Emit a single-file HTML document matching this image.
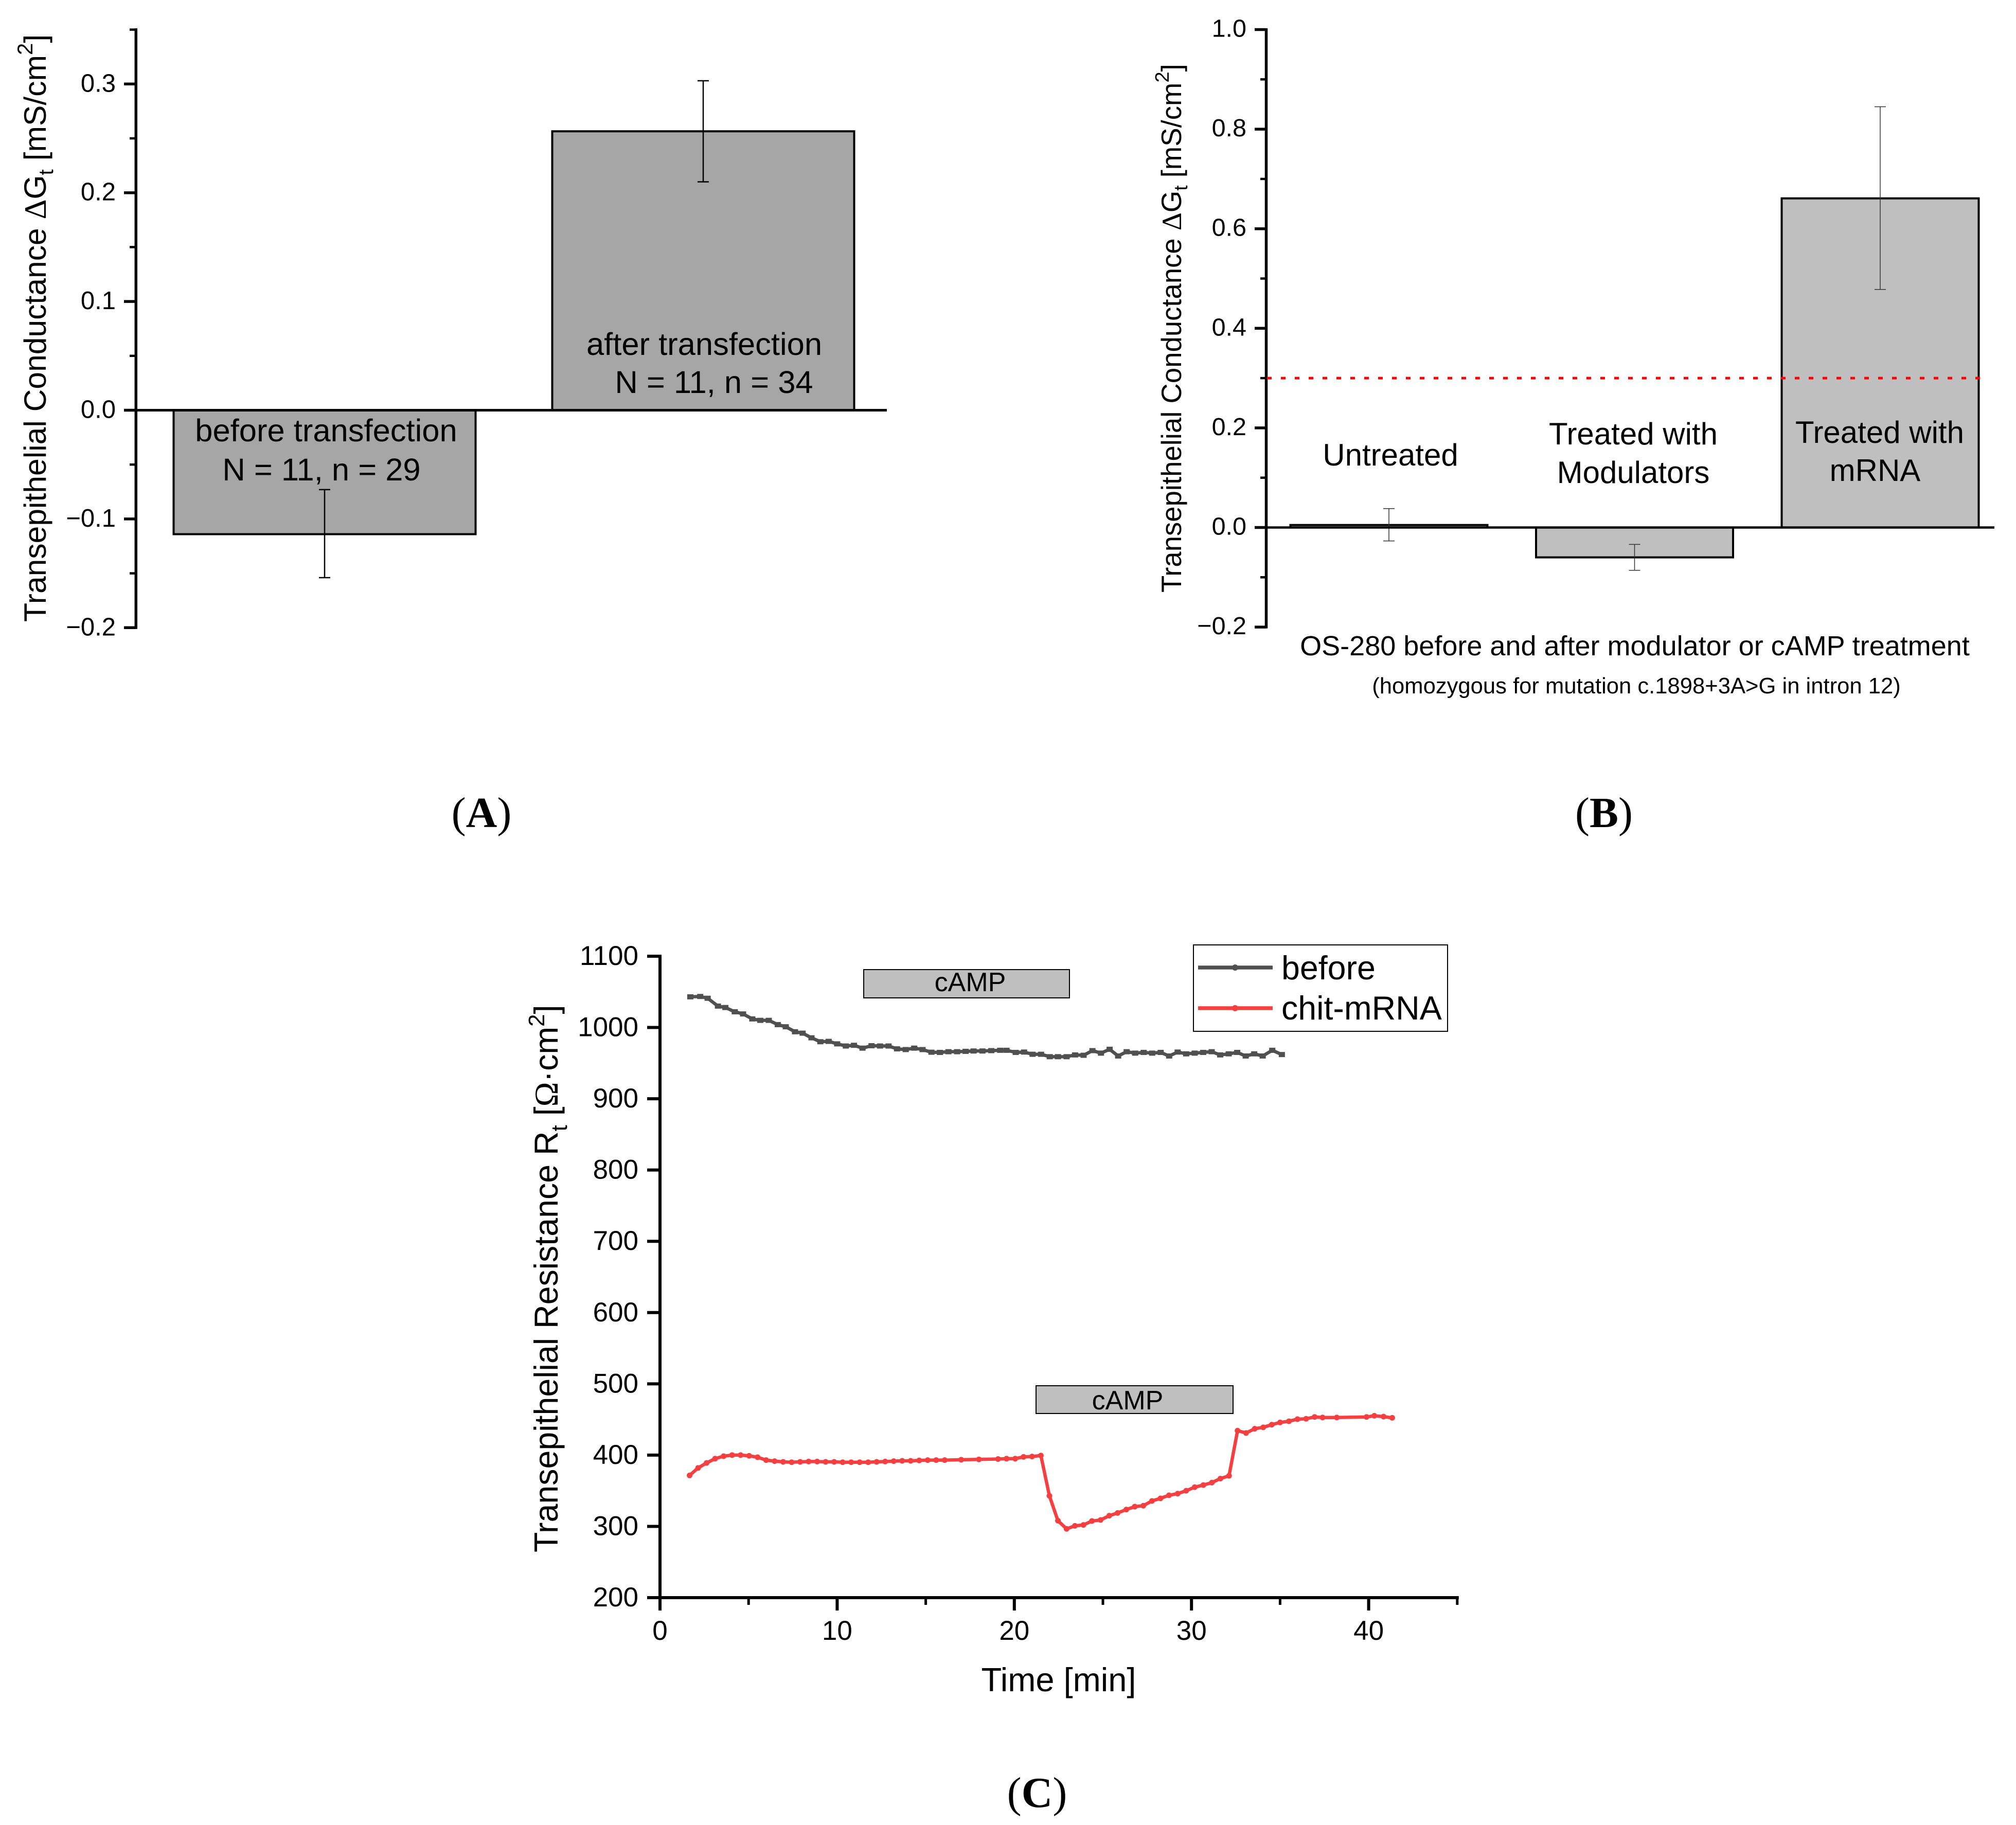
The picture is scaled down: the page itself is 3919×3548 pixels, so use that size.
<!DOCTYPE html>
<html lang="en">
<head>
<meta charset="utf-8">
<title>Transepithelial conductance and resistance charts</title>
<style>
html,body{margin:0;padding:0;background:#fff;}
svg{display:block;}
text{font-family:"Liberation Sans",sans-serif;fill:#000;}
.serif{font-family:"Liberation Serif",serif;}
</style>
</head>
<body>
<svg id="figure" xmlns="http://www.w3.org/2000/svg" width="3919" height="3548" viewBox="0 0 3919 3548">
  <rect x="0" y="0" width="3919" height="3548" fill="#fff"/>

  <g id="panel-a"></g>
  <g id="panel-b"></g>
  <g id="panel-c"></g>

  <g>
    <text transform="translate(89,1209) rotate(-90)" font-size="60.6">Transepithelial Conductance <tspan class="serif">Δ</tspan>G<tspan font-size="40" dy="14">t</tspan><tspan dy="-14"> [mS/cm</tspan><tspan font-size="42" dy="-26">2</tspan><tspan dy="26">]</tspan></text>
    <text x="634" y="858" font-size="61.5" text-anchor="middle">before transfection</text>
    <text x="625" y="934" font-size="61.5" text-anchor="middle">N = 11, n = 29</text>
    <text x="1369" y="690" font-size="61.5" text-anchor="middle">after transfection</text>
    <text x="1388" y="764" font-size="61.5" text-anchor="middle">N = 11, n = 34</text>
    <text class="serif" x="936" y="1608" font-size="84" text-anchor="middle">(<tspan font-weight="bold">A</tspan>)</text>
  </g>

  <g>
    <text transform="translate(2296,1152) rotate(-90)" font-size="54.5">Transepithelial Conductance <tspan class="serif">Δ</tspan>G<tspan font-size="37" dy="12">t</tspan><tspan dy="-12"> [mS/cm</tspan><tspan font-size="38" dy="-24">2</tspan><tspan dy="24">]</tspan></text>
    <text x="2703" y="905" font-size="60" text-anchor="middle">Untreated</text>
    <text x="3175" y="864" font-size="60" text-anchor="middle">Treated with</text>
    <text x="3175" y="939" font-size="60" text-anchor="middle">Modulators</text>
    <text x="3654" y="861" font-size="60" text-anchor="middle">Treated with</text>
    <text x="3645" y="935" font-size="60" text-anchor="middle">mRNA</text>
    <text x="3178" y="1274" font-size="54" text-anchor="middle">OS-280 before and after modulator or cAMP treatment</text>
    <text x="3181" y="1348" font-size="43.6" text-anchor="middle">(homozygous for mutation c.1898+3A&gt;G in intron 12)</text>
    <text class="serif" x="3118" y="1608" font-size="84" text-anchor="middle">(<tspan font-weight="bold">B</tspan>)</text>
  </g>

  <g>
    <text transform="translate(1084,3018) rotate(-90)" font-size="64.5">Transepithelial Resistance R<tspan font-size="44" dy="18">t</tspan><tspan dy="-18"> [</tspan><tspan class="serif">Ω</tspan>·cm<tspan font-size="44" dy="-26">2</tspan><tspan dy="26">]</tspan></text>
    <text x="2058" y="3288" font-size="65" text-anchor="middle">Time [min]</text>
    <rect x="1679" y="1885" width="400" height="55" fill="#bfbfbf" stroke="#000" stroke-width="2"/>
    <text x="1886" y="1927" font-size="52" text-anchor="middle">cAMP</text>
    <rect x="2014" y="2694" width="383" height="54" fill="#bfbfbf" stroke="#000" stroke-width="2"/>
    <text x="2192" y="2740" font-size="52" text-anchor="middle">cAMP</text>
    <g>
      <rect x="2320" y="1837" width="494" height="168" fill="#fff" stroke="#000" stroke-width="2"/>
      <line x1="2329" y1="1881" x2="2474" y2="1881" stroke="#505050" stroke-width="7.5"/>
      <circle cx="2401" cy="1881" r="6" fill="#505050"/>
      <text x="2491" y="1904" font-size="64.5">before</text>
      <line x1="2329" y1="1960" x2="2474" y2="1960" stroke="#f44040" stroke-width="7.5"/>
      <circle cx="2401" cy="1960" r="6" fill="#f44040"/>
      <text x="2491" y="1982" font-size="64.5">chit-mRNA</text>
    </g>
    <text class="serif" x="2016" y="3513" font-size="84" text-anchor="middle">(<tspan font-weight="bold">C</tspan>)</text>
  </g>
</svg>

<script>
/* ---------- Panel A data ---------- */
const aCategories = ['before transfection', 'after transfection'];
const aValues = [-0.114, 0.2565];
const aErrLow = [-0.154, 0.21];
const aErrHigh = [-0.073, 0.303];
const aMajorTicks = [-0.2, -0.1, 0, 0.1, 0.2, 0.3];
const aMinorTicks = [-0.15, -0.05, 0.05, 0.15, 0.25, 0.35];
const aTickLabels = ['\u22120.2', '\u22120.1', '0.0', '0.1', '0.2', '0.3'];

/* ---------- Panel B data ---------- */
const bCategories = ['Untreated', 'Treated with Modulators', 'Treated with mRNA'];
const bValues = [0.005, -0.06, 0.661];
const bErrLow = [-0.027, -0.086, 0.478];
const bErrHigh = [0.038, -0.034, 0.845];
const bMajorTicks = [-0.2, 0, 0.2, 0.4, 0.6, 0.8, 1.0];
const bMinorTicks = [-0.1, 0.1, 0.3, 0.5, 0.7, 0.9];
const bTickLabels = ['\u22120.2', '0.0', '0.2', '0.4', '0.6', '0.8', '1.0'];
const bThreshold = [0.3];

/* ---------- Panel C data ---------- */
const cYTicks = [200, 300, 400, 500, 600, 700, 800, 900, 1000, 1100];
const cYTickLabels = ['200', '300', '400', '500', '600', '700', '800', '900', '1000', '1100'];
const cXMajorTicks = [0, 10, 20, 30, 40];
const cXMinorTicks = [5, 15, 25, 35, 45];
const cXTickLabels = ['0', '10', '20', '30', '40'];

const beforeTime = [1.71,2.27,2.69,3.27,3.69,4.22,4.69,5.21,5.66,6.14,6.65,7.10,7.62,8.05,8.55,9.05,9.52,10.0,10.49,10.95,11.43,11.94,12.42,12.9,13.38,13.87,14.35,14.82,15.32,15.8,16.28,16.77,17.25,17.7,18.2,18.7,19.2,19.56,20.08,20.55,21.03,21.51,22.0,22.46,22.95,23.43,23.91,24.41,24.89,25.38,25.86,26.34,26.82,27.3,27.78,28.26,28.74,29.22,29.7,30.18,30.66,31.14,31.62,32.1,32.58,33.06,33.54,34.02,34.56,35.1];
const beforeValues = [1043,1043.5,1041,1030,1028,1022,1019,1012,1010,1010,1004,1001,994,992,985.5,980,980.5,977,974,975,971,974.4,974,974,970,969,971,969,965.3,965,966,966,966.5,967,967,967.5,968,968,965,965.5,962.4,962.4,959,959,959,961.5,961,967.5,964,969.4,960,966,964,965,964,965,960,965.5,963,964,965,966,961.5,963,965,960,963,960,968,962];

const mrnaTime = [1.67,2.15,2.63,3.11,3.59,4.07,4.55,5.03,5.51,5.99,6.47,6.95,7.43,7.91,8.39,8.87,9.35,9.83,10.31,10.79,11.27,11.75,12.23,12.71,13.19,13.67,14.15,14.63,15.11,15.59,16.07,17.0,18.0,19.08,19.56,20.05,20.52,21.0,21.5,21.98,22.46,22.95,23.42,23.9,24.38,24.87,25.36,25.83,26.32,26.8,27.28,27.77,28.25,28.73,29.22,29.7,30.18,30.67,31.15,31.63,32.12,32.6,33.08,33.57,34.05,34.53,35.0,35.5,35.98,36.47,36.95,37.4,38.2,39.88,40.32,40.84,41.33];
const mrnaValues = [371.5,382,389,395,398.5,400,400,399,397,393,391.5,390.5,390,390.5,391,391,390.5,390.5,390,390,390,390,390.5,391,391.5,392,392,392.5,393,393,393,393.5,394,394.5,395,395,397.5,398,399.4,342.9,308,296.5,300.8,302,307.5,309,315,318.8,323.6,327.7,329,335.7,339.3,343.6,346,350,355,358,361.4,367,371,434.3,431,437,439,442.7,445.8,447.5,450.4,451,453.5,452.8,452.8,453.5,455.2,454,452.3];

/* ---------- Axis functions ---------- */
const aY = v => 797.5 - v * 2114;
const aX = i => 631 + i * 736;
const bY = v => 1025.5 - v * 968;
const bX = i => 2700 + i * 477.5;
const cY = v => 3106 - (v - 200) * 1.3856;
const cX = t => 1283 + t * 34.44;

const SVGNS = 'http://www.w3.org/2000/svg';
function mk(parent, tag, attrs) {
  const el = document.createElementNS(SVGNS, tag);
  for (const k in attrs) el.setAttribute(k, attrs[k]);
  parent.appendChild(el);
  return el;
}
function ln(parent, x1, y1, x2, y2, color, width) {
  return mk(parent, 'line', { x1: x1, y1: y1, x2: x2, y2: y2, stroke: color, 'stroke-width': width });
}

/* ---------- Panel A ---------- */
const panelA = document.getElementById('panel-a');
aValues.forEach(function (v, i) {
  const bar = mk(panelA, 'rect', { x: aX(i) - 293.5, y: Math.min(aY(v), aY(0)), width: 587, height: Math.abs(aY(v) - aY(0)), fill: '#a6a6a6', stroke: '#000', 'stroke-width': 4 });
  
  
  const stem = ln(panelA, aX(i), aY(aErrLow[i]), aX(i), aY(aErrHigh[i]), '#000', 2.5);
  
  
  const capLow = ln(panelA, aX(i) - 11, aY(aErrLow[i]), aX(i) + 11, aY(aErrLow[i]), '#000', 2.5);
  
  
  const capHigh = ln(panelA, aX(i) - 11, aY(aErrHigh[i]), aX(i) + 11, aY(aErrHigh[i]), '#000', 2.5);
  
  
});
const aAxis = ln(panelA, 264.3, aY(0.35) - 2.5, 264.3, aY(-0.2) + 2.5, '#000', 5.5);


const aBase = ln(panelA, 264, aY(0), 1724, aY(0), '#000', 5);


aMajorTicks.forEach(function (v, i) {
  const t = ln(panelA, 241, aY(v), 264, aY(v), '#000', 5.5);
  
  
  const lab = mk(panelA, 'text', { x: 225, y: aY(v) + 15, 'font-size': 49, 'text-anchor': 'end' });
  lab.textContent = aTickLabels[i];
  
  
});
aMinorTicks.forEach(function (v) {
  const t = ln(panelA, 252, aY(v), 264, aY(v), '#000', 4.5);
  
  
});

/* ---------- Panel B ---------- */
const panelB = document.getElementById('panel-b');
bValues.forEach(function (v, i) {
  const bar = mk(panelB, 'rect', { x: bX(i) - 191.5, y: Math.min(bY(v), bY(0)), width: 383, height: Math.abs(bY(v) - bY(0)), fill: '#bfbfbf', stroke: '#000', 'stroke-width': 4 });
  
  
  const stem = ln(panelB, bX(i), bY(bErrLow[i]), bX(i), bY(bErrHigh[i]), '#333', 1.5);
  
  
  const capLow = ln(panelB, bX(i) - 11, bY(bErrLow[i]), bX(i) + 11, bY(bErrLow[i]), '#333', 1.5);
  
  
  const capHigh = ln(panelB, bX(i) - 11, bY(bErrHigh[i]), bX(i) + 11, bY(bErrHigh[i]), '#333', 1.5);
  
  
});
const bAxis = ln(panelB, 2461.5, bY(1) - 2.5, 2461.5, bY(-0.2) + 2.5, '#000', 5.5);


const bBase = ln(panelB, 2462, bY(0), 3877, bY(0), '#000', 4.5);


const thresholdLine = ln(panelB, 2463, bY(bThreshold[0]), 3866, bY(bThreshold[0]), '#f00', 5);
thresholdLine.setAttribute('stroke-dasharray', '9 18');


bMajorTicks.forEach(function (v, i) {
  const t = ln(panelB, 2439, bY(v), 2461, bY(v), '#000', 5.5);
  
  
  const lab = mk(panelB, 'text', { x: 2423, y: bY(v) + 14, 'font-size': 48.5, 'text-anchor': 'end' });
  lab.textContent = bTickLabels[i];
  
  
});
bMinorTicks.forEach(function (v) {
  const t = ln(panelB, 2450, bY(v), 2461, bY(v), '#000', 4.5);
  
  
});

/* ---------- Panel C ---------- */
const panelC = document.getElementById('panel-c');
const cAxisY = ln(panelC, 1283, cY(1100) - 3, 1283, cY(200) + 3, '#000', 6);


const cAxisX = ln(panelC, 1280, cY(200), cX(45) + 3, cY(200), '#000', 6);


cYTicks.forEach(function (v, i) {
  const t = ln(panelC, 1258, cY(v), 1283, cY(v), '#000', 6);
  
  
  const lab = mk(panelC, 'text', { x: 1241, y: cY(v) + 17, 'font-size': 53, 'text-anchor': 'end' });
  lab.textContent = cYTickLabels[i];
  
  
});
cXMajorTicks.forEach(function (v, i) {
  const t = ln(panelC, cX(v), cY(200), cX(v), cY(200) + 25, '#000', 6);
  
  
  const lab = mk(panelC, 'text', { x: cX(v), y: 3188, 'font-size': 53, 'text-anchor': 'middle' });
  lab.textContent = cXTickLabels[i];
  
  
});
cXMinorTicks.forEach(function (v) {
  const t = ln(panelC, cX(v), cY(200), cX(v), cY(200) + 14, '#000', 5);
  
  
});

const beforeLine = mk(panelC, 'polyline', { points: beforeTime.map(function (t, i) { return cX(t) + ',' + cY(beforeValues[i]); }).join(' '), fill: 'none', stroke: '#505050', 'stroke-width': 6.5, 'stroke-linejoin': 'round' });


beforeTime.forEach(function (t, i) {
  const p = mk(panelC, 'rect', { x: cX(t) - 6, y: cY(beforeValues[i]) - 5, width: 12, height: 10, fill: '#505050' });
  
  
});
const mrnaLine = mk(panelC, 'polyline', { points: mrnaTime.map(function (t, i) { return cX(t) + ',' + cY(mrnaValues[i]); }).join(' '), fill: 'none', stroke: '#f44040', 'stroke-width': 6.5, 'stroke-linejoin': 'round' });


mrnaTime.forEach(function (t, i) {
  const p = mk(panelC, 'circle', { cx: cX(t), cy: cY(mrnaValues[i]), r: 5.5, fill: '#f44040' });
  
  
});
</script>
</body>
</html>
